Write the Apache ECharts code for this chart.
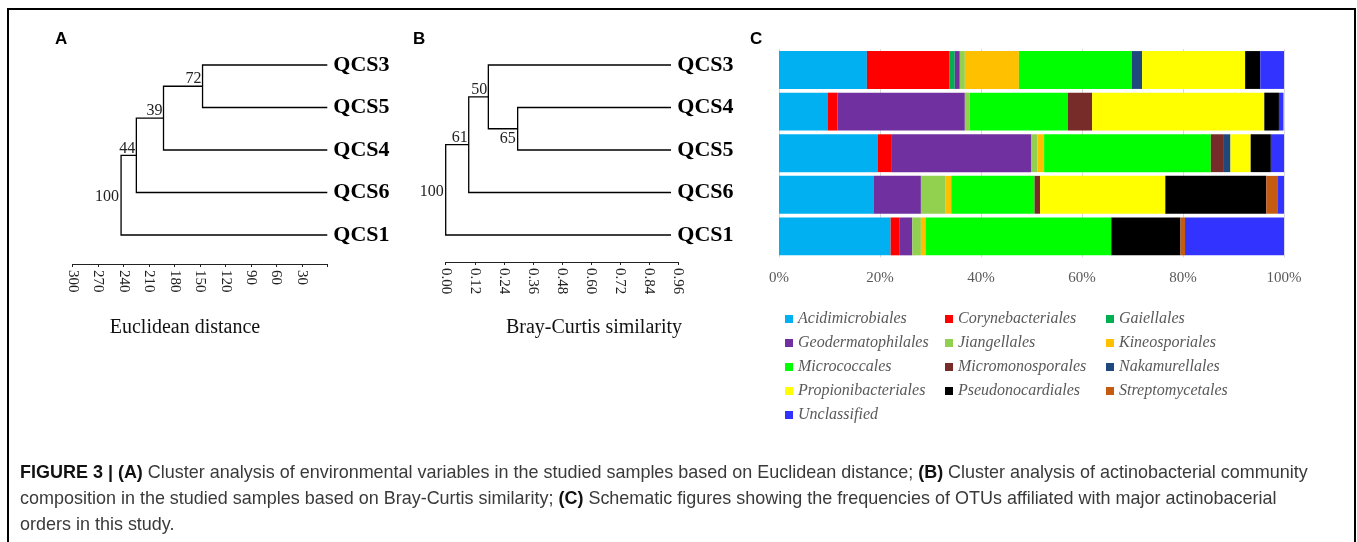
<!DOCTYPE html>
<html><head><meta charset="utf-8">
<script src="https://cdn.jsdelivr.net/npm/echarts@6/dist/echarts.min.js"></script>
<style>html,body{margin:0;padding:0;background:#fff}#c{width:1357px;height:542px}</style>
</head><body><div id="c"></div>
<script>
// ---------------- DATA ----------------
// Panel A: Euclidean distance dendrogram
const leavesA = ['QCS3', 'QCS5', 'QCS4', 'QCS6', 'QCS1'];
// [child1, child2, merge height, bootstrap]; child = leaf index or 'n<k>' (earlier merge)
const mergesA = [
  [0, 1, 147, 72],
  ['n0', 2, 193, 39],
  ['n1', 3, 225, 44],
  ['n2', 4, 243, 100]
];
const leafHeightA = 0;
const ticksA = [300, 270, 240, 210, 180, 150, 120, 90, 60, 30];

// Panel B: Bray-Curtis similarity dendrogram
const leavesB = ['QCS3', 'QCS4', 'QCS5', 'QCS6', 'QCS1'];
const mergesB = [
  [1, 2, 0.297, 65],
  [0, 'n0', 0.176, 50],
  ['n1', 3, 0.095, 61],
  ['n2', 4, 0.0, 100]
];
const leafHeightB = 0.93;
const ticksB = ['0.00', '0.12', '0.24', '0.36', '0.48', '0.60', '0.72', '0.84', '0.96'];

// Panel C: relative frequency (%) of orders per sample
const samples = ['QCS3', 'QCS4', 'QCS5', 'QCS6', 'QCS1'];
const orderNames = ['Acidimicrobiales', 'Corynebacteriales', 'Gaiellales', 'Geodermatophilales',
  'Jiangellales', 'Kineosporiales', 'Micrococcales', 'Micromonosporales', 'Nakamurellales',
  'Propionibacteriales', 'Pseudonocardiales', 'Streptomycetales', 'Unclassified'];
const acidimicrobiales    = [17.4, 9.6, 19.6, 18.7, 22.1];
const corynebacteriales   = [16.4, 2.0, 2.6, 0, 1.7];
const gaiellales          = [1.0, 0, 0, 0, 0];
const geodermatophilales  = [1.0, 25.2, 27.7, 9.4, 2.6];
const jiangellales        = [1.0, 1.0, 1.3, 4.8, 1.7];
const kineosporiales      = [10.7, 0, 1.3, 1.2, 0.9];
const micrococcales       = [22.4, 19.4, 33.0, 16.5, 36.8];
const micromonosporales   = [0, 4.8, 2.6, 1.1, 0];
const nakamurellales      = [2.0, 0, 1.3, 0, 0];
const propionibacteriales = [20.4, 34.1, 4.0, 24.8, 0];
const pseudonocardiales   = [3.0, 2.9, 4.0, 20.0, 13.7];
const streptomycetales    = [0, 0, 0, 2.3, 0.9];
const unclassified        = [4.8, 0.9, 2.6, 1.2, 19.6];
const percentTicks = ['0%', '20%', '40%', '60%', '80%', '100%'];

// ---------------- STYLE ----------------
const orderValues = [acidimicrobiales, corynebacteriales, gaiellales, geodermatophilales,
  jiangellales, kineosporiales, micrococcales, micromonosporales, nakamurellales,
  propionibacteriales, pseudonocardiales, streptomycetales, unclassified];
const orderColors = ['#00B0F0', '#FF0000', '#00B050', '#7030A0', '#92D050', '#FFC000', '#00FF00',
  '#772C2A', '#1F497D', '#FFFF00', '#000000', '#C55A11', '#3333FF'];
const labelPlaceA = ['above', 'above', 'above', 'left'];
const labelPlaceB = ['below', 'above', 'above', 'left'];
const SERIF = '"Liberation Serif", "Times New Roman", serif';
const SANS = '"Liberation Sans", Arial, sans-serif';

function buildNodes(merges, leafH) {
  const nodes = [];
  const pos = c => typeof c === 'number' ? { h: leafH, y: c } : nodes[+String(c).slice(1)];
  merges.forEach(([a, b, h, s]) => {
    const A = pos(a), B = pos(b);
    nodes.push({ h: h, y: (A.y + B.y) / 2, A: A, B: B, s: s });
  });
  return nodes.map(n => [n.h, n.y, n.A.h, n.A.y, n.B.h, n.B.y, n.s]);
}

function dendroRender(places) {
  return function (params, api) {
    const h = api.value(0), y = api.value(1);
    const ah = api.value(2), ay = api.value(3), bh = api.value(4), by = api.value(5);
    const s = api.value(6);
    const pA = api.coord([ah, ay]), pB = api.coord([bh, by]);
    const nA = api.coord([h, ay]), nB = api.coord([h, by]), n = api.coord([h, y]);
    const place = places[params.dataIndex];
    let t;
    if (place === 'left') t = { x: n[0] - 2, y: n[1] + 2, align: 'right', va: 'middle' };
    else if (place === 'above') t = { x: n[0] - 1, y: n[1] + 1, align: 'right', va: 'bottom' };
    else t = { x: n[0] - 2, y: n[1] + 2, align: 'right', va: 'top' };
    return {
      type: 'group',
      children: [
        { type: 'polyline', shape: { points: [pA, nA, nB, pB] },
          style: { stroke: '#000', lineWidth: 1.3, fill: null } },
        { type: 'text', x: t.x, y: t.y,
          style: { text: String(s), align: t.align, verticalAlign: t.va,
                   fontSize: 16, fontFamily: SERIF, fill: '#222' } }
      ]
    };
  };
}

const leafAxisLabel = (margin) => ({
  margin: margin, fontSize: 22, fontWeight: 'bold', fontFamily: SERIF, color: '#000'
});

const CAP_FONT = SANS;
const capStyle = (text, y) => ({
  type: 'text', x: 20, y: y, scaleX: 0.946,
  style: { text: text, verticalAlign: 'middle', fontSize: 19, fontFamily: CAP_FONT, fill: '#3a3a3a',
    rich: { b: { fontWeight: 'bold', fill: '#111', fontSize: 19, fontFamily: CAP_FONT } } }
});

const chart = echarts.init(document.getElementById('c'), null, { renderer: 'canvas' });
const option = {
  animation: false,
  backgroundColor: '#fff',
  grid: [
    { left: 72.7, width: 254.6, top: 43.75, height: 212.5 },
    { left: 445.7, width: 232.6, top: 43.75, height: 212.5 },
    { left: 779, width: 505, top: 49.2, height: 208 }
  ],
  xAxis: [
    { type: 'value', gridIndex: 0, inverse: true, min: 0, max: 300, interval: 30, offset: 7.75,
      axisLine: { show: true, onZero: false, lineStyle: { color: '#222', width: 1 } },
      axisTick: { show: true, length: 3, lineStyle: { color: '#222' } },
      splitLine: { show: false },
      axisLabel: { rotate: -90, margin: 6, fontSize: 15, fontFamily: SERIF, color: '#222',
        formatter: v => ticksA.indexOf(v) >= 0 ? String(v) : '' } },
    { type: 'value', gridIndex: 1, min: 0, max: 0.96, interval: 0.12, offset: 5.75,
      axisLine: { show: true, onZero: false, lineStyle: { color: '#222', width: 1 } },
      axisTick: { show: true, length: 3, lineStyle: { color: '#222' } },
      splitLine: { show: false },
      axisLabel: { rotate: -90, margin: 6, fontSize: 15, fontFamily: SERIF, color: '#222',
        formatter: v => { const s = (Math.round(v * 100) / 100).toFixed(2); return ticksB.indexOf(s) >= 0 ? s : ''; } } },
    { type: 'value', gridIndex: 2, min: 0, max: 100, interval: 20,
      axisLine: { show: false }, axisTick: { show: false },
      splitLine: { show: true, lineStyle: { color: '#d9d9d9', width: 1 } },
      axisLabel: { margin: 13, fontSize: 15, fontFamily: SERIF, color: '#595959',
        formatter: v => percentTicks[Math.round(v / 20)] } }
  ],
  yAxis: [
    { type: 'category', gridIndex: 0, position: 'right', inverse: true, data: leavesA,
      axisLine: { show: false }, axisTick: { show: false }, axisLabel: leafAxisLabel(6) },
    { type: 'value', gridIndex: 0, inverse: true, min: -0.5, max: 4.5, show: false },
    { type: 'category', gridIndex: 1, position: 'right', inverse: true, data: leavesB,
      axisLine: { show: false }, axisTick: { show: false }, axisLabel: leafAxisLabel(-1) },
    { type: 'value', gridIndex: 1, inverse: true, min: -0.5, max: 4.5, show: false },
    { type: 'category', gridIndex: 2, inverse: true, data: samples,
      axisLine: { show: false }, axisTick: { show: false }, axisLabel: { show: false } }
  ],
  legend: [0, 1, 2].map(c => ({
    data: orderNames.filter((_, i) => i % 3 === c),
    orient: 'vertical', left: [785, 945, 1106][c], top: 311, padding: 0,
    itemWidth: 8, itemHeight: 8, itemGap: 8, icon: 'rect', selectedMode: false,
    textStyle: { fontFamily: SERIF, fontStyle: 'italic', fontSize: 16, lineHeight: 16, color: '#595959' }
  })),
  series: [
    { type: 'custom', name: 'dendroA', xAxisIndex: 0, yAxisIndex: 1,
      renderItem: dendroRender(labelPlaceA), data: buildNodes(mergesA, leafHeightA), silent: true },
    { type: 'custom', name: 'dendroB', xAxisIndex: 1, yAxisIndex: 3,
      renderItem: dendroRender(labelPlaceB), data: buildNodes(mergesB, leafHeightB), silent: true }
  ].concat(orderNames.map((n, i) => ({
    type: 'bar', name: n, stack: 'total', xAxisIndex: 2, yAxisIndex: 4,
    barCategoryGap: '9%', data: orderValues[i], itemStyle: { color: orderColors[i] }
  }))),
  graphic: [
    { type: 'rect', shape: { x: 8, y: 9, width: 1347, height: 560 }, silent: true,
      style: { stroke: '#000', lineWidth: 2, fill: null } },
    { type: 'text', left: 55, top: 31, style: { text: 'A', fontSize: 17, fontWeight: 'bold', fontFamily: SANS, fill: '#000' } },
    { type: 'text', left: 413, top: 31, style: { text: 'B', fontSize: 17, fontWeight: 'bold', fontFamily: SANS, fill: '#000' } },
    { type: 'text', left: 750, top: 31, style: { text: 'C', fontSize: 17, fontWeight: 'bold', fontFamily: SANS, fill: '#000' } },
    { type: 'text', x: 185, y: 328, style: { text: 'Euclidean distance', align: 'center', verticalAlign: 'middle', fontSize: 20, fontFamily: SERIF, fill: '#111' } },
    { type: 'text', x: 594, y: 328, style: { text: 'Bray-Curtis similarity', align: 'center', verticalAlign: 'middle', fontSize: 20, fontFamily: SERIF, fill: '#111' } },
    capStyle('{b|FIGURE 3 | (A)} Cluster analysis of environmental variables in the studied samples based on Euclidean distance; {b|(B)} Cluster analysis of actinobacterial community', 473),
    capStyle('composition in the studied samples based on Bray-Curtis similarity; {b|(C)} Schematic figures showing the frequencies of OTUs affiliated with major actinobacerial', 499),
    capStyle('orders in this study.', 525)
  ]
};
chart.setOption(option);
</script></body></html>
